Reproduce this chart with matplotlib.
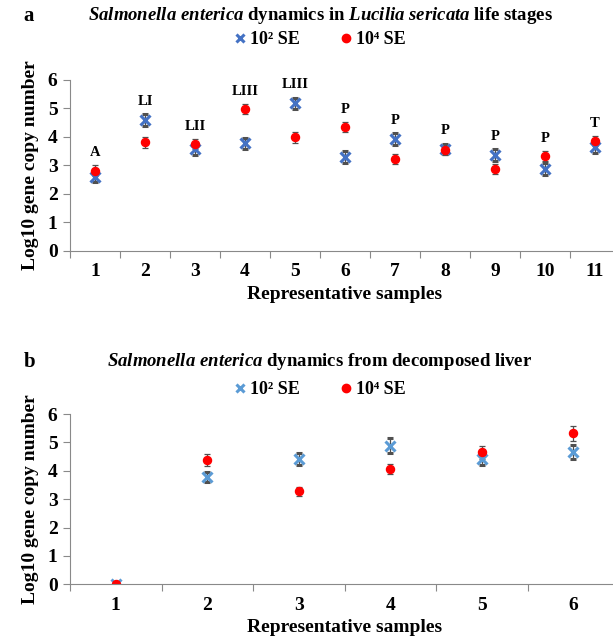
import matplotlib.pyplot as plt
from matplotlib.lines import Line2D
import numpy as np

plt.rcParams['font.family'] = ['Liberation Serif', 'DejaVu Serif']
plt.rcParams['font.weight'] = 'bold'
plt.rcParams['axes.labelweight'] = 'bold'
plt.rcParams['mathtext.fontset'] = 'custom'
plt.rcParams['mathtext.it'] = 'Liberation Serif:italic:bold'
plt.rcParams['mathtext.rm'] = 'Liberation Serif:bold'

#  panel a: life stages
stage_samples = np.arange(1, 12)
stage_labels = ['A', 'LI', 'LII', 'LIII', 'LIII', 'P', 'P', 'P', 'P', 'P', 'T']
stage_low = [2.60, 4.59, 3.56, 3.77, 5.18, 3.30, 3.93, 3.58, 3.36, 2.87, 3.63]
stage_low_err = [0.2, 0.2, 0.18, 0.2, 0.2, 0.2, 0.2, 0.18, 0.2, 0.22, 0.2]
stage_high = [2.81, 3.81, 3.75, 4.98, 3.98, 4.34, 3.21, 3.54, 2.88, 3.33, 3.85]
stage_high_err = [0.2, 0.2, 0.18, 0.18, 0.18, 0.18, 0.18, 0.18, 0.18, 0.18, 0.18]

#  panel b: decomposed liver
liver_samples = np.arange(1, 7)
liver_low = [0.0, 3.79, 4.41, 4.89, 4.41, 4.65]
liver_low_err = [0.03, 0.17, 0.22, 0.25, 0.2, 0.25]
liver_high = [0.0, 4.38, 3.27, 4.06, 4.65, 5.32]
liver_high_err = [0.03, 0.22, 0.15, 0.18, 0.22, 0.27]

series_names = ['10² SE', '10⁴ SE']
RED = '#FF0000'
GREY = '#898989'


def draw_panel(ax, x, low, low_err, high, high_err, blue):
	ax.errorbar(x, low, yerr=low_err, fmt='x', color=blue, ms=6.5, mew=2.2,
				ecolor='#505050', elinewidth=0.9, capsize=2.5, capthick=0.9)
	ax.errorbar(x, high, yerr=high_err, fmt='o', color=RED, ms=5.8,
				ecolor='#505050', elinewidth=0.9, capsize=2.5, capthick=0.9)
	n = len(x)
	ax.set_xlim(0.5, n + 0.5)
	ax.set_ylim(0, 6)
	ax.set_yticks(range(7))
	ax.set_xticks(np.arange(0.5, n + 1, 1.0))
	ax.set_xticklabels([])
	ax.set_xticks(x, minor=True)
	ax.set_xticklabels([str(v) for v in x], minor=True)
	ax.tick_params(axis='x', which='minor', length=0, pad=9, labelsize=14)
	ax.tick_params(axis='x', which='major', length=5, color=GREY)
	ax.tick_params(axis='y', length=5, color=GREY, labelsize=14, pad=4)
	for s in ['top', 'right']:
		ax.spines[s].set_visible(False)
	for s in ['left', 'bottom']:
		ax.spines[s].set_color(GREY)
	ax.set_xlabel('Representative samples', fontsize=14, labelpad=4)
	ax.set_ylabel('Log10 gene copy number', fontsize=14, labelpad=6)


def add_header(fig, y_title, y_legend, letter, title, blue):
	fig.text(0.038, y_title, letter, fontsize=15, ha='left', va='center')
	fig.text(0.522, y_title, title, fontsize=13.5, ha='center', va='center')
	handles = [Line2D([], [], ls='', marker='x', color=blue, ms=6, mew=2.2),
			   Line2D([], [], ls='', marker='o', color=RED, ms=6)]
	fig.legend(handles, series_names, loc='center', ncol=2,
			   bbox_to_anchor=(0.522, y_legend), frameon=False, fontsize=13,
			   handlelength=0.7, handletextpad=0.2, columnspacing=2.2)


def main():
	fig = plt.figure(figsize=(6.13, 6.41), dpi=100)

	blue_a = '#4472C4'
	ax1 = fig.add_axes([0.1142, 0.6089, 0.8972, 0.2663])
	draw_panel(ax1, stage_samples, stage_low, stage_low_err, stage_high, stage_high_err, blue_a)
	for i, lab in enumerate(stage_labels):
		top = max(stage_low[i] + stage_low_err[i], stage_high[i] + stage_high_err[i])
		ax1.text(stage_samples[i], top + 0.45, lab, fontsize=10.5, ha='center', va='center')
	add_header(fig, 1 - 16 / 641, 1 - 40 / 641, 'a',
			   r'$\mathit{Salmonella\ enterica}$ dynamics in $\mathit{Lucilia\ sericata}$ life stages',
			   blue_a)

	blue_b = '#5B9BD5'
	ax2 = fig.add_axes([0.1142, 0.0885, 0.8956, 0.2656])
	draw_panel(ax2, liver_samples, liver_low, liver_low_err, liver_high, liver_high_err, blue_b)
	add_header(fig, 1 - 362 / 641, 1 - 390 / 641, 'b',
			   r'$\mathit{Salmonella\ enterica}$ dynamics from decomposed liver',
			   blue_b)

	fig.savefig('out.png', dpi=100)


if __name__ == '__main__':
	main()
